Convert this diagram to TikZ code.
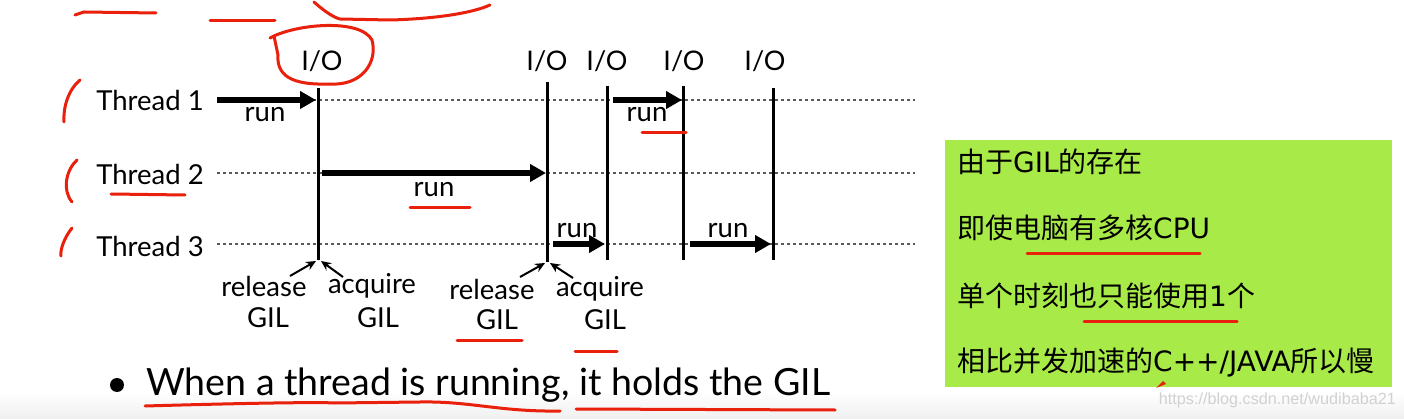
\documentclass[tikz,border=0pt]{standalone}
\usepackage{fontspec}
\setmainfont{Lato}
\newfontfamily\cjk{Noto Sans CJK SC}
\newfontfamily\lat{DejaVu Sans}
\newfontfamily\wmfont{Liberation Sans}
\usetikzlibrary{arrows.meta}
\definecolor{boxgreen}{HTML}{A8EA48}
\definecolor{annred}{HTML}{E8200C}
\tikzset{
  lbl/.style={font=\fontsize{27.5}{27.5}\selectfont, inner sep=0pt},
  small/.style={font=\fontsize{27.5}{27.5}\selectfont, inner sep=0pt},
  iolbl/.style={font=\fontsize{27}{27}\selectfont, inner sep=0pt},
  timeline/.style={dash pattern=on 3pt off 3pt, line width=1.1pt, black!65},
  ioline/.style={line width=3pt},
  runarrow/.style={line width=5.5pt, -{Triangle[length=16pt,width=17pt]}},
  gilarrow/.style={line width=2pt, -{Stealth[length=10pt,width=9pt]}},
  ann/.style={annred, line width=3pt, line cap=round},
  cn/.style={font=\cjk\fontsize{28}{28}\selectfont, inner sep=0pt, anchor=west}
}
\begin{document}
\begin{tikzpicture}[x=1pt,y=-1pt]
\useasboundingbox (0,0) rectangle (1404,419);
\fill[white] (0,0) rectangle (1404,419);
\shade[top color=white, bottom color=black!6] (0,392) rectangle (1404,419);

% thread labels
\node[lbl] (t1) at (150,100) {Thread 1};
\node[lbl] (t2) at (150,174) {Thread 2};
\node[lbl] (t3) at (150,246) {Thread 3};

% timelines
\coordinate (s1) at (217,100); \coordinate (e1) at (915,100);
\coordinate (s2) at (217,173); \coordinate (e2) at (915,173);
\coordinate (s3) at (217,244); \coordinate (e3) at (915,244);
\draw[timeline] (s1) -- (e1);
\draw[timeline] (s2) -- (e2);
\draw[timeline] (s3) -- (e3);

% I/O vertical lines
\coordinate (v1t) at (318,88);  \coordinate (v1b) at (318,260);
\coordinate (v2t) at (547,82);  \coordinate (v2b) at (547,262);
\coordinate (v3t) at (607,86);  \coordinate (v3b) at (607,260);
\coordinate (v4t) at (683,86);  \coordinate (v4b) at (683,260);
\coordinate (v5t) at (773,88);  \coordinate (v5b) at (773,260);
\draw[ioline] (v1t) -- (v1b);
\draw[ioline] (v2t) -- (v2b);
\draw[ioline] (v3t) -- (v3b);
\draw[ioline] (v4t) -- (v4b);
\draw[ioline] (v5t) -- (v5b);

\node[iolbl] (io1) at (322,61) {I/O};
\node[iolbl] (io2) at (547,61) {I/O};
\node[iolbl] (io3) at (607,61) {I/O};
\node[iolbl] (io4) at (684,61) {I/O};
\node[iolbl] (io5) at (765,61) {I/O};

% run arrows
\coordinate (a1s) at (217,100); \coordinate (a1e) at (316,100);
\coordinate (a2s) at (322,173); \coordinate (a2e) at (546,173);
\coordinate (a3s) at (553,244); \coordinate (a3e) at (605,244);
\coordinate (a4s) at (613,100); \coordinate (a4e) at (682,100);
\coordinate (a5s) at (690,244); \coordinate (a5e) at (771,244);
\draw[runarrow] (a1s) -- (a1e);
\draw[runarrow] (a2s) -- (a2e);
\draw[runarrow] (a3s) -- (a3e);
\draw[runarrow] (a4s) -- (a4e);
\draw[runarrow] (a5s) -- (a5e);

\node[small] (r1) at (265,115) {run};
\node[small] (r2) at (434,190) {run};
\node[small] (r3) at (577,231) {run};
\node[small] (r4) at (647,115) {run};
\node[small] (r5) at (728,231) {run};

% GIL labels
\node[small] (rel1) at (264,286) {release};
\node[small] (g1) at (268,318) {GIL};
\node[small] (acq1) at (372,286) {acquire};
\node[small] (g2) at (378,318) {GIL};
\node[small] (rel2) at (492,289) {release};
\node[small] (g3) at (497,320) {GIL};
\node[small] (acq2) at (600,289) {acquire};
\node[small] (g4) at (605,320) {GIL};

\coordinate (p1) at (316,261); \coordinate (p2) at (321,261);
\coordinate (p3) at (545,263); \coordinate (p4) at (550,263);
\draw[gilarrow] (290,276) -- (p1);
\draw[gilarrow] (343,277) -- (p2);
\draw[gilarrow] (520,277) -- (p3);
\draw[gilarrow] (573,278) -- (p4);

% bullet
\node[circle, fill=black, inner sep=0pt, minimum size=14pt] (bul) at (117,385) {};
\node[font=\fontsize{37.5}{37.5}\selectfont, inner sep=0pt, anchor=west] (bt) at (146,385) {When a thread is running, it holds the GIL};

% green box
\node[fill=boxgreen, minimum width=447pt, minimum height=247pt, anchor=north west, inner sep=0pt] (box) at (945,140) {};
\node[cn] (c1) at (957,162) {由于{\lat GIL}的存在};
\node[cn] (c2) at (957,228) {即使电脑有多核{\lat CPU}};
\node[cn] (c3) at (957,296) {单个时刻也只能使用{\lat 1}个};
\node[cn] (c4) at (957,362) {相比并发加速的{\lat C++/JAVA}所以慢};

% watermark
\node[font=\wmfont\fontsize{16.2}{16.2}\selectfont, text=black!18, anchor=east, inner sep=0pt] (wm) at (1396,400) {https://blog.csdn.net/wudibaba21};

% red annotations
\draw[ann] (75,15) -- (84,12) -- (156,13);
\draw[ann] (210,21) -- (275,21);
\draw[ann] (314,2) .. controls (325,12) and (335,18) .. (340,19) -- (390,20) .. controls (430,19) and (470,14) .. (490,5);
\draw[ann] (270,38) .. controls (295,24) and (360,18) .. (372,40) .. controls (378,62) and (362,86) .. (330,84) .. controls (300,85) and (276,80) .. (278,55) -- (274,36);
\draw[ann] (80,80) .. controls (68,90) and (63,108) .. (64,122);
\draw[ann] (77,160) .. controls (66,170) and (62,190) .. (72,202);
\draw[ann] (72,228) .. controls (64,238) and (60,250) .. (61,256);
\draw[ann] (111,194) -- (185,195);
\draw[ann] (410,208) -- (470,208);
\draw[ann] (642,133) -- (686,133);
\draw[ann] (457,340) -- (522,340);
\draw[ann] (575,351) -- (617,351);
\draw[ann] (1027,254) -- (1200,254);
\draw[ann] (1084,321) -- (1237,321);
\draw[ann] (145,406) .. controls (250,403) and (320,402) .. (335,403) -- (420,402) .. controls (470,401) and (500,412) .. (560,411);
\draw[ann] (576,409) -- (835,410);
\fill[annred] (1156,388) -- (1163,381) -- (1166,384) -- cycle;
\end{tikzpicture}
\end{document}
